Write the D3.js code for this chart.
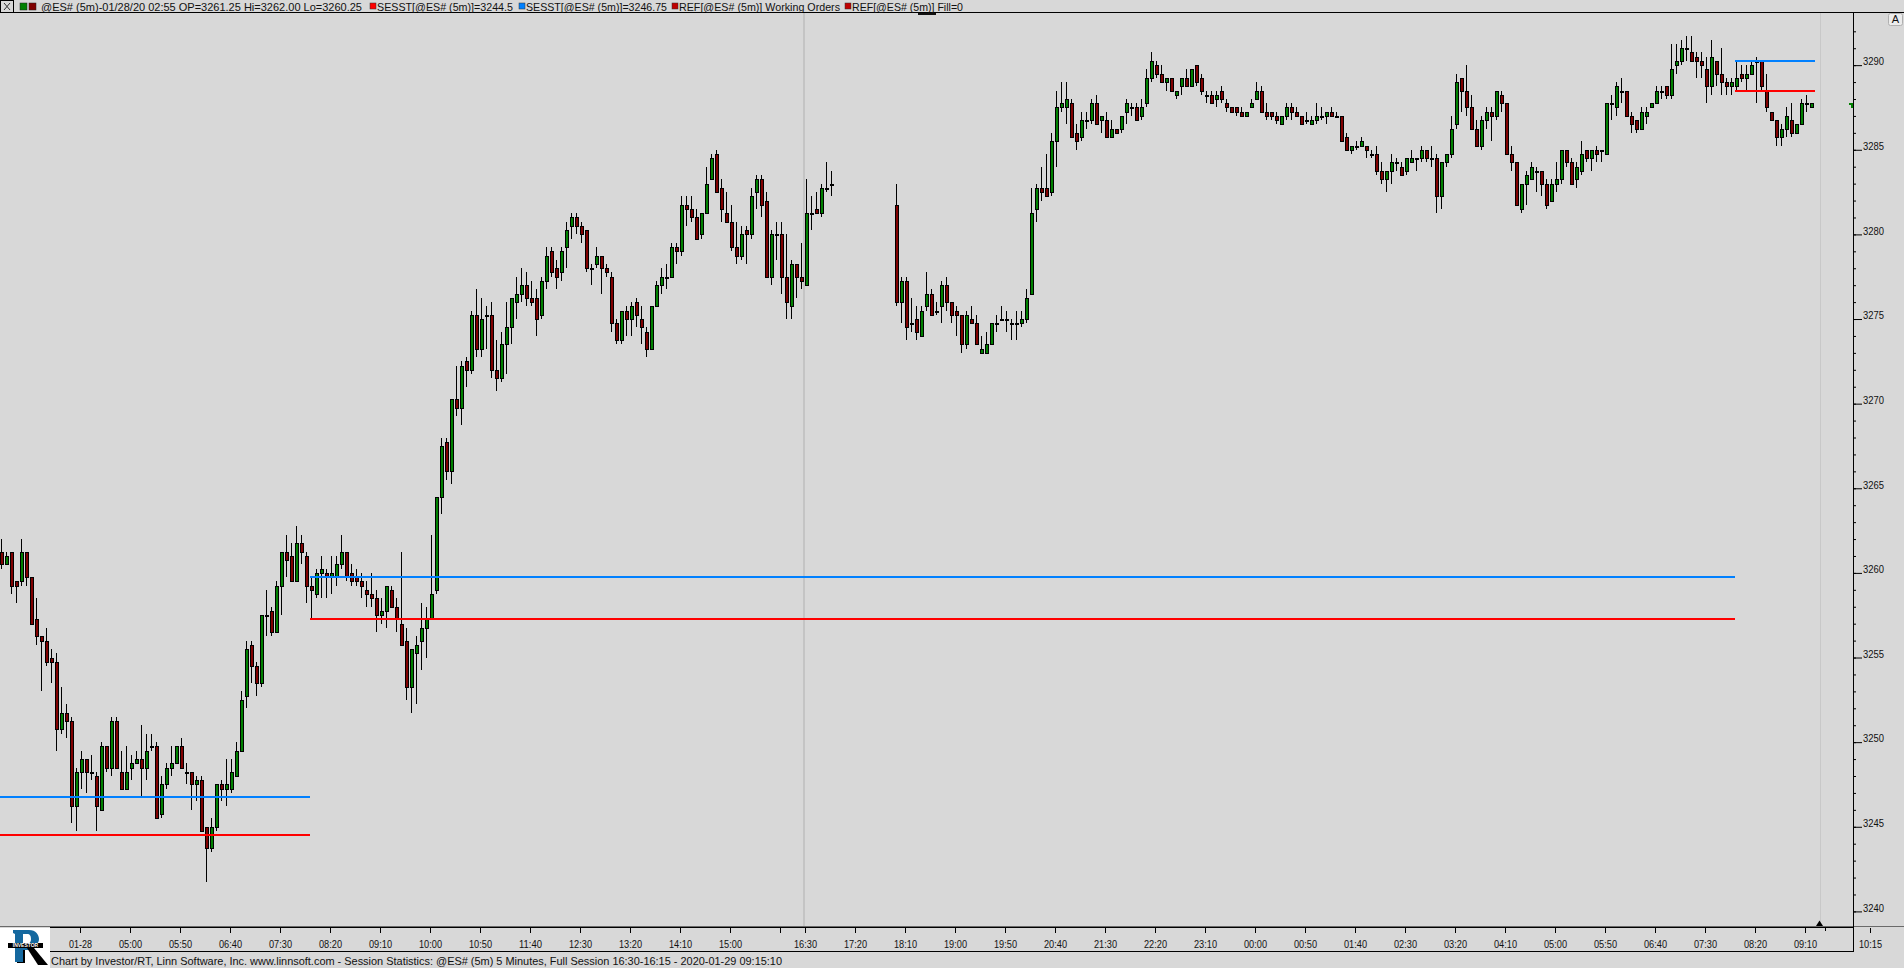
<!DOCTYPE html>
<html><head><meta charset="utf-8">
<script src="https://cdn.jsdelivr.net/npm/d3@7"></script>
<style>
html,body{margin:0;padding:0;background:#d8d8d8;overflow:hidden}
svg{display:block}
text{font-family:"Liberation Sans",Arial,sans-serif;fill:#111}
</style></head><body>
<svg id="c" width="1904" height="968"></svg>
<script>
const N=null;
const opens=[
3261.25,3260.5,3261.25,3259.5,3259.5,3261.25,3259.75,3257.25,3256.25,3256,
3255,3254.75,3250.75,3251.75,3251.25,3246.25,3248.25,3249,3248.25,3248,
3246,3249.75,3248.5,3251.25,3248.25,3247.25,3248.5,3248.75,3249,3248.5,
3249.75,3249.75,3245.75,3247.5,3248.5,3248.75,3249.75,3248.25,3248.25,3247.5,
3247.75,3245,3243.75,3245,3247.5,3247.25,3247.25,3248,3249.5,3252.75,
3255.75,3254.5,3253.5,3257.5,3257.75,3256.5,3259.25,3261.25,3261,3259.5,
3261.75,3261,3259.25,3258.75,3260,3260,3259.75,3259.75,3260.5,3261.25,
3260,3259.75,3259.5,3259,3258.75,3258.5,3257.5,3257.75,3259,3258,
3257,3256,3253.25,3255.25,3256,3256.75,3257.25,3259,3264.5,3267.75,
3266,3270.25,3269.75,3272.5,3272,3275.25,3273.25,3275.25,3275.25,3272,
3271.5,3273.5,3274.5,3276,3276.5,3277,3276.25,3276.25,3275.25,3277.25,
3279,3278,3277.75,3279.25,3280.5,3281,3280.5,3280.25,3278,3278.25,
3278.75,3278,3277.5,3274.75,3273.75,3275.5,3275,3276,3275,3274.25,
3273.25,3275.75,3277,3277.5,3277.5,3279.25,3279,3281.75,3281.5,3281,
3280,3281.25,3283.25,3284.75,3282.75,3281.25,3280.75,3279.25,3278.75,3280.25,
3280,3282.5,3283.25,3282,3277.5,3280,3280,3277.5,3275.75,3278.25,
3277.5,3277,3281.25,3281.5,3281.25,3282.75,3283,N,N,N,
N,N,N,N,N,N,N,N,N,3281.75,
3276,3277.25,3274.75,3275,3274,3275.75,3276.5,3275.5,3275.75,3277,
3276,3275.5,3275.25,3273.5,3275,3274.75,3273,3273,3273.5,3274.75,
3275,3275,3274.75,3274.75,3274.75,3275,3276.5,3281.5,3282.75,3282.75,
3282.5,3285.5,3287.5,3287.5,3287.75,3286,3285.75,3286.75,3286.75,3287.75,
3286.75,3286.75,3285.75,3286.25,3286.25,3287.25,3287.5,3287.5,3287,3287.75,
3289.25,3290,3289.5,3289,3289.25,3288.25,3288.75,3289.25,3288.75,3290,
3289.25,3288.25,3288.25,3288,3288.5,3287.75,3287.5,3287.5,3287.25,3287,
3287.5,3288,3288.5,3287.25,3287.25,3287,3286.5,3287,3287.5,3287.25,
3287,3286.75,3286.5,3286.75,3287,3287,3287.25,3287,3287,3285.75,
3285,3285.25,3285.25,3285.25,3284.75,3284.75,3283.75,3283.25,3283.75,3284.25,
3284,3283.75,3284.25,3284.5,3284.5,3285,3284.5,3284.5,3282.25,3284.25,
3284.75,3286.5,3289.25,3288.5,3287.5,3286.25,3285.25,3286.75,3287.25,3287,
3288.25,3287.75,3284.75,3284.25,3281.5,3283,3283.25,3283.75,3283.75,3283,
3282,3283,3283.25,3285,3284.25,3283.25,3283.75,3285,3284.5,3285,
3285,3284.75,3287.75,3287.5,3288.5,3288.5,3287,3286.75,3286.25,3287,
3287.5,3287.75,3288.5,3288.75,3288.25,3290,3290.25,3291,3290.75,3290.5,
3290.25,3289.75,3288.75,3290.25,3289.5,3289,3288.75,3288.75,3289.5,3289.25,
3289.5,3290.25,3290.25,3288.5,3287.25,3286.75,3285.75,3286.25,3286.75,3286,3286.5,3287.75,3287.5];
const highs=[
3262,3261.25,3261.25,3259.5,3262,3261.25,3259.75,3258.5,3256.25,3256.75,
3255.5,3255.25,3253.25,3252.25,3251.5,3248.5,3249.5,3249,3249.25,3248.25,
3250,3249.75,3251.5,3251.5,3249.5,3249.75,3249.25,3249.5,3251,3250.5,
3250.5,3250,3248,3248.75,3249.75,3249.75,3250.25,3248.75,3248.25,3248,
3248,3245,3245.5,3247.5,3247.75,3249,3249,3250,3253,3256,
3256,3254.75,3257.5,3259,3258,3259.5,3261.25,3262.25,3261.75,3262.75,
3262.25,3261.25,3259.75,3260.25,3261,3260.25,3261,3261,3262.25,3261.25,
3260.5,3260.25,3260,3259.5,3260,3259,3258.5,3259.25,3259.25,3258.5,
3261.25,3256.75,3255.5,3256.25,3258.25,3258,3262.25,3264.5,3268,3268,
3270.25,3272.25,3272.5,3272.75,3275.5,3276.75,3276.25,3275.75,3276,3273.75,
3274.25,3276,3276.25,3277.5,3278,3277.75,3277.25,3276.75,3277.5,3279.25,
3279.25,3278.5,3279.25,3280.75,3281.25,3281.25,3280.75,3280.25,3278.25,3279.25,
3278.75,3278.25,3277.75,3275,3275.5,3275.75,3276,3276.25,3275.75,3274.5,
3275.75,3277.25,3278,3278.25,3279.5,3279.5,3282.25,3282.25,3282.25,3281.5,
3281.25,3284,3284.75,3285,3283.25,3282.5,3281.75,3280.75,3280.5,3280.5,
3282.75,3283.5,3283.5,3282.5,3280.25,3280.75,3280.75,3280,3278.5,3278.25,
3279.5,3283.25,3282.25,3282.5,3283,3284.25,3283.75,N,N,N,
N,N,N,N,N,N,N,N,N,3283,
3277.5,3277.5,3276.25,3275.75,3275.75,3277.75,3276.75,3276,3277.25,3277.5,
3276,3275.75,3275.25,3275.5,3275.75,3275.25,3274,3274.25,3274.75,3275.25,
3275.75,3275.5,3275,3275.5,3275.5,3276.75,3282.75,3283,3284,3284.75,
3286,3288.5,3289,3289,3288,3286.5,3287.25,3287.25,3288,3288.25,
3287,3287.25,3286.75,3286.25,3287,3288,3287.75,3287.75,3288,3289.75,
3290.75,3290.25,3290,3289.25,3289.25,3288.5,3289.25,3289.75,3289.75,3290,
3289.5,3288.5,3288.5,3288.5,3288.75,3288,3287.5,3287.5,3287.5,3287.25,
3288,3289,3288.75,3287.75,3287.25,3287.25,3287,3287.75,3287.75,3287.5,
3287,3287.25,3287,3287.75,3287.5,3287.25,3287.5,3287.25,3287,3286,
3285.25,3285.5,3285.75,3285.25,3285,3285.25,3284.25,3283.75,3284.75,3284.5,
3284.25,3284.5,3285,3284.5,3285.25,3285,3285.25,3284.75,3284.25,3284.75,
3287,3289.5,3289.25,3290,3288.25,3286.75,3287,3287.5,3287.5,3288.5,
3288.5,3287.75,3285.25,3284.25,3283,3283.75,3284.25,3284,3283.75,3283.25,
3283.25,3284.25,3285,3285,3284.5,3284.25,3285.5,3285,3285,3285.25,
3285,3287.75,3288.25,3289,3289.25,3288.5,3287.25,3286.75,3287.5,3287.5,
3287.75,3288.75,3288.75,3288.75,3291.25,3291.25,3291.5,3291.75,3291.75,3290.75,
3290.75,3290.5,3291.5,3290.25,3291,3289.25,3289.25,3290.25,3290,3290,
3290.25,3290.5,3290.25,3289.5,3287.25,3286.75,3286.5,3287.5,3287.75,3286.5,3288,3288.25,3287.75];
const lows=[
3260.25,3260.5,3258.75,3258.25,3259.25,3259.25,3257,3255.75,3253,3254.5,
3253.5,3249.5,3250.5,3250.25,3245.25,3244.75,3247.25,3247,3247.75,3244.75,
3246,3248.25,3248,3248.5,3247.25,3247.25,3247.75,3248.75,3246.75,3247.75,
3249.5,3245.5,3245.5,3247.25,3248,3248.75,3248.5,3247.5,3246,3246.5,
3244.75,3241.75,3243.5,3244.75,3246.5,3246.25,3247,3248,3249.5,3252,
3253.5,3252.75,3253.25,3256.25,3256.25,3256.5,3257.5,3259.75,3259.5,3259.5,
3260.5,3258.25,3257.25,3258.5,3258.5,3258.5,3258.75,3259.25,3260.25,3259.5,
3259.25,3259.25,3258.5,3258,3258,3256.5,3257,3256.75,3258,3256.5,
3255.75,3252.5,3251.75,3252.25,3254.25,3255,3257.25,3258.75,3263.5,3265.5,
3265.25,3269.25,3268.75,3271,3271.75,3272.75,3272.75,3273.25,3271.5,3270.75,
3271.25,3271.75,3273.5,3275,3276,3275.75,3275.75,3274,3275,3276.75,
3277.5,3276.75,3277.25,3278,3279.75,3280,3279.5,3277.75,3277,3278,
3276.5,3277.5,3274.25,3273.5,3273.5,3274,3274,3274.5,3273.5,3272.75,
3273.25,3275.75,3276.5,3276.75,3277.5,3278.25,3278.75,3280.5,3280.75,3279.75,
3279.75,3281.25,3283.25,3282.5,3280.75,3280.75,3279,3278.25,3278.5,3278.25,
3279.75,3281.5,3281,3277.5,3277,3278.5,3276.5,3275,3275,3276.25,
3276.75,3277,3280.25,3281.25,3281,3282.5,3282.25,N,N,N,
N,N,N,N,N,N,N,N,N,3275.75,
3274.75,3273.75,3274.25,3273.75,3274,3275.5,3275.25,3275.25,3274.75,3275.5,
3274.75,3274,3273,3273.25,3274.75,3273.5,3273,3273,3273.5,3274.25,
3275,3274.25,3273.75,3273.75,3274.5,3274.75,3276.5,3280.75,3282,3282.25,
3282.25,3284,3287.25,3286.5,3285.75,3285,3285.5,3286.25,3286.5,3286.5,
3286,3285.75,3285.75,3286,3286,3286.5,3287,3286.75,3286.75,3287.5,
3289,3289.25,3289,3288.5,3288.5,3288,3288.25,3288.75,3288.75,3288.75,
3288.25,3287.75,3287.75,3287.5,3287.75,3287.25,3287.25,3287,3287,3287,
3287.5,3288,3287.25,3286.75,3286.75,3286.5,3286.5,3286.75,3286.75,3287,
3286.5,3286.5,3286.5,3286.5,3286.75,3286.5,3287,3287,3285.5,3285,
3284.75,3285,3285.25,3284.5,3284.5,3283.5,3283,3282.5,3283,3283.75,
3283.5,3283.5,3284.25,3283.75,3284.25,3284.25,3284,3281.25,3281.5,3284,
3284.5,3286.25,3287.25,3287,3286.25,3285.25,3285,3286.25,3285.5,3286.75,
3287.25,3284.75,3283.75,3281.75,3281.25,3281.75,3283.25,3282.5,3282.25,3281.5,
3282,3282.5,3283,3284,3283,3282.75,3283.5,3284.25,3283.75,3284.25,
3284.25,3284.75,3286.75,3287,3287.75,3287,3286,3286,3286.25,3286.5,
3287.5,3287.75,3288,3288,3288,3289.5,3290,3290.25,3290.25,3289.25,
3289.25,3287.75,3288.25,3288.75,3288.25,3288.25,3288.25,3288.5,3289,3288.5,
3289.5,3287.75,3288.5,3287.25,3286.75,3285.25,3285.25,3285.75,3285.75,3286,3286.5,3287.25,3287.5];
const closes=[
3260.5,3261,3259.25,3259.25,3261.25,3259.75,3257,3256.25,3256,3254.75,
3254.75,3250.75,3251.75,3251.25,3246.25,3248.25,3249,3248.25,3248.25,3246.25,
3249.75,3248.5,3251.25,3248.5,3247.25,3248.25,3248.75,3249,3248.5,3249.5,
3249.75,3245.5,3247.5,3248.5,3248.75,3249.75,3248.5,3248.25,3247.5,3247.75,
3244.75,3243.75,3245,3247.5,3247.25,3247.5,3248.25,3249.5,3252.5,3255.5,
3254.5,3253.5,3257.5,3257.5,3256.5,3259.25,3261.25,3260.75,3259.5,3261.75,
3261.25,3259.25,3259,3260,3260.25,3259.75,3260,3260.5,3261.25,3259.75,
3259.5,3259.5,3259.25,3258.75,3258.5,3257.5,3257.75,3259.25,3258,3257.25,
3255.75,3253.25,3255.5,3255.75,3256.75,3257.25,3258.75,3264.5,3267.5,3266,
3270.25,3269.75,3272.25,3272,3275.25,3273.25,3275,3275.25,3272,3271.5,
3273.5,3274.5,3276.25,3276.5,3277,3276.25,3276,3275,3277.25,3278.75,
3277.75,3277.5,3279,3280.25,3281,3280.5,3280,3278,3278,3278.75,
3278,3277.75,3274.75,3273.75,3275.5,3275,3275.75,3275.25,3274.5,3273.25,
3275.75,3277,3277.5,3277.5,3279.25,3279,3281.75,3281.5,3281,3279.75,
3281.25,3283,3284.5,3282.5,3281.5,3280.75,3279.25,3278.75,3280,3280,
3282.25,3283.25,3281.75,3277.5,3280,3280,3277.5,3276,3278.25,3277.5,
3277.25,3281.25,3281.25,3281.25,3282.75,3282.75,3283,N,N,N,
N,N,N,N,N,N,N,N,N,3276,
3277.25,3274.5,3274.75,3274.25,3275.5,3276.5,3275.25,3275.5,3277,3276,
3275.25,3275.25,3273.5,3275.25,3274.75,3273.5,3273.25,3273.5,3274.75,3274.75,
3275,3275,3274.75,3274.75,3275,3276.25,3281.25,3282.75,3282.5,3282.25,
3285.5,3287.5,3287.75,3288,3285.75,3285.5,3286.75,3286.75,3287.75,3286.5,
3287,3285.75,3286.25,3286,3287,3287.75,3287.5,3286.75,3287.5,3289.25,
3290.25,3289.5,3289,3289.25,3288.5,3288.5,3289.25,3288.75,3289.75,3289,
3288.5,3288.25,3287.75,3288.25,3288,3287.5,3287.25,3287.25,3287,3287.25,
3287.75,3288.5,3287.25,3287,3287,3286.75,3287,3287.5,3287.25,3287,
3286.5,3286.75,3286.75,3287,3287,3287.25,3287,3287,3285.5,3285,
3285.25,3285.25,3285.5,3285,3284.75,3283.75,3283.25,3283.75,3284.25,3284.25,
3283.5,3284.5,3284.5,3284.5,3285,3284.5,3284.5,3282.25,3284.25,3284.75,
3286.25,3289,3288.5,3287.5,3286.25,3285.25,3286.75,3287.25,3287,3288.5,
3287.75,3284.75,3284.25,3281.75,3283,3283.5,3284,3283.75,3283,3281.75,
3283,3283.25,3285,3284.25,3283,3284,3284.75,3284.5,3285,3284.75,
3285,3287.75,3287.75,3288.75,3288.5,3287,3286.5,3286.25,3287.25,3287.25,
3287.75,3288.5,3288.5,3288.25,3289.75,3290.25,3291,3291,3290.25,3290.25,
3290,3288.75,3290.5,3289.5,3289,3288.75,3289,3289.25,3289.25,3289.5,
3290,3290.25,3288.75,3287.5,3286.75,3285.75,3286.25,3287,3286,3286.5,3287.75,3287.75,3287.75];

// time axis
const timeTickBars=[16,26,36,46,56,66,76,86,96,106,116,126,136,146,156,161,171,181,191,201,211,221,231,241,251,261,271,281,291,301,311,321,331,341,351,361,374];
const timeTickLabels=["01-28","05:00","05:50","06:40","07:30","08:20","09:10","10:00","10:50","11:40","12:30","13:20","14:10","15:00","","16:30","17:20","18:10","19:00","19:50","20:40","21:30","22:20","23:10","00:00","00:50","01:40","02:30","03:20","04:10","05:00","05:50","06:40","07:30","08:20","09:10","10:15"];
const priceTicks=[3240,3245,3250,3255,3260,3265,3270,3275,3280,3285,3290];

// session levels: [first bar edge, last bar edge, price]
const blueLevels=[[0,62,3246.75],[62,347,3259.75],[347,363,3290.25]];
const redLevels=[[0,62,3244.5],[62,347,3257.25],[347,363,3288.5]];
const sessionBar=160.8, cursorBar=363.9, lastBar=362;

const headerItems=[
 {sq:"#ff0000",sx:370,x:377,w:136,t:"SESST[@ES# (5m)]=3244.5"},
 {sq:"#0080ff",sx:519,x:526,w:141,t:"SESST[@ES# (5m)]=3246.75"},
 {sq:"#c00000",sx:672,x:679,w:161,t:"REF[@ES# (5m)] Working Orders"},
 {sq:"#c00000",sx:845,x:852,w:111,t:"REF[@ES# (5m)] Fill=0"}
];
const mainTitle="@ES# (5m)-01/28/20 02:55 OP=3261.25 Hi=3262.00 Lo=3260.25";
const footerText="Chart by Investor/RT, Linn Software, Inc. www.linnsoft.com - Session Statistics: @ES# (5m) 5 Minutes, Full Session 16:30-16:15 - 2020-01-29 09:15:10";

const svg=d3.select("#c");
const x=d3.scaleLinear().domain([0,1]).range([0,5]);
const y=d3.scaleLinear().domain([3240,3290]).range([911.4,65.15]);
const snap=v=>Math.round(v)+0.5;
const AX=1853, AY=927;

svg.append("rect").attr("width",1904).attr("height",968).attr("fill","#d8d8d8");

// vertical markers
svg.append("line").attr("x1",x(sessionBar)).attr("x2",x(sessionBar)).attr("y1",13).attr("y2",AY)
  .attr("stroke","#c4c4c4").attr("stroke-width",2);
svg.append("line").attr("x1",snap(x(cursorBar))).attr("x2",snap(x(cursorBar))).attr("y1",13).attr("y2",AY)
  .attr("stroke","#c8c8c8").attr("stroke-width",1);

// candles
const bars=d3.range(opens.length).filter(i=>opens[i]!==null).map(i=>({i,o:opens[i],h:highs[i],l:lows[i],c:closes[i]}));
const g=svg.append("g").attr("shape-rendering","crispEdges");
g.selectAll("line.w").data(bars).join("line").attr("class","w")
  .attr("x1",d=>x(d.i)+1.5).attr("x2",d=>x(d.i)+1.5)
  .attr("y1",d=>Math.round(y(d.h))).attr("y2",d=>Math.round(y(d.l)))
  .attr("stroke","#000").attr("stroke-width",1);
g.selectAll("rect.b").data(bars).join("rect").attr("class","b")
  .attr("x",d=>x(d.i)+0.5).attr("width",3)
  .attr("y",d=>snap(y(Math.max(d.o,d.c))))
  .attr("height",d=>Math.max(1,snap(y(Math.min(d.o,d.c)))-snap(y(Math.max(d.o,d.c)))))
  .attr("fill",d=>d.c>d.o?"#008000":d.c<d.o?"#800000":"#000")
  .attr("stroke","#000").attr("stroke-width",1);

// level lines
const lv=svg.append("g").attr("shape-rendering","crispEdges");
[[blueLevels,"#0080ff"],[redLevels,"#ff0000"]].forEach(([arr,col])=>{
  lv.selectAll(null).data(arr).join("line")
    .attr("x1",d=>x(d[0])).attr("x2",d=>x(d[1]))
    .attr("y1",d=>Math.round(y(d[2]))).attr("y2",d=>Math.round(y(d[2])))
    .attr("stroke",col).attr("stroke-width",2);
});

// bottom band rules
svg.append("line").attr("x1",0).attr("x2",1904).attr("y1",926.5).attr("y2",926.5).attr("stroke","#6a6a6a");
svg.append("line").attr("x1",50).attr("x2",AX).attr("y1",927.5).attr("y2",927.5).attr("stroke","#000");
svg.append("line").attr("x1",50).attr("x2",AX+1).attr("y1",951.5).attr("y2",951.5).attr("stroke","#000");
svg.append("line").attr("x1",AX+.5).attr("x2",AX+.5).attr("y1",12).attr("y2",952).attr("stroke","#000");

// x axis
const xAxis=d3.axisBottom(x).tickValues(timeTickBars)
  .tickFormat(d=>timeTickLabels[timeTickBars.indexOf(d)]).tickSize(5).tickPadding(7);
const gx=svg.append("g").attr("transform",`translate(0,${AY+1})`).call(xAxis);
gx.select(".domain").remove();
gx.selectAll(".tick line").attr("stroke","#000");
gx.selectAll("text").attr("font-size",11).attr("font-family","Liberation Sans").attr("fill","#1a1a1a")
  .attr("textLength",23).attr("lengthAdjust","spacingAndGlyphs");
// short tick at the end of the data area
const gx2=svg.append("g").attr("transform",`translate(0,${AY+1})`).call(d3.axisBottom(x).tickValues([365]).tickFormat("").tickSize(3));
gx2.select(".domain").remove();

// y axes
const minor=svg.append("g").attr("transform",`translate(${AX},0)`).call(d3.axisRight(y).tickValues(d3.range(3240,3293)).tickFormat("").tickSize(3));
minor.select(".domain").remove();
const gy=svg.append("g").attr("transform",`translate(${AX},0)`).call(d3.axisRight(y).tickValues(priceTicks).tickFormat(d3.format("d")).tickSize(9).tickPadding(1));
gy.select(".domain").remove();
gy.selectAll("text").attr("font-size",11).attr("font-family","Liberation Sans").attr("dy","-0.02em").attr("fill","#1a1a1a")
  .attr("textLength",21).attr("lengthAdjust","spacingAndGlyphs");

// last price mark and cursor triangle
const ly=Math.round(y(closes[lastBar]));
svg.append("path").attr("d",`M${AX-4},${ly}h4v5h-2v-3h-2z`).attr("fill","#008000");
svg.append("path").attr("d",`M${x(cursorBar)-3.5},926l3.5,-5.5l3.5,5.5z`).attr("fill","#000");

// header
svg.append("rect").attr("x",0).attr("y",0).attr("width",1904).attr("height",12).attr("fill","#d8d8d8");
svg.append("line").attr("x1",0).attr("x2",1904).attr("y1",12.5).attr("y2",12.5).attr("stroke","#000");
svg.append("rect").attr("x",.5).attr("y",.5).attr("width",13).attr("height",12).attr("fill","#d8d8d8").attr("stroke","#000");
svg.append("path").attr("d","M4,3L10,10M10,3L4,10").attr("stroke","#333").attr("fill","none");
svg.append("rect").attr("x",20).attr("y",3).attr("width",7).attr("height",7).attr("fill","#008000").attr("stroke","#222").attr("stroke-width",.5);
svg.append("rect").attr("x",29).attr("y",3).attr("width",7).attr("height",7).attr("fill","#800000").attr("stroke","#222").attr("stroke-width",.5);
function headText(t,xp,w){
  svg.append("text").attr("x",xp).attr("y",10.5).attr("font-size",11.5).attr("textLength",w).attr("lengthAdjust","spacingAndGlyphs").text(t);
}
headText(mainTitle,41,321);
headerItems.forEach(h=>{
  svg.append("rect").attr("x",h.sx).attr("y",3).attr("width",6).attr("height",6).attr("fill",h.sq).attr("stroke","#333").attr("stroke-width",.5);
  headText(h.t,h.x,h.w);
});
svg.append("rect").attr("x",918).attr("y",13).attr("width",18).attr("height",2).attr("fill","#111");

// A button
svg.append("rect").attr("x",1888.5).attr("y",13.5).attr("width",14).attr("height",12).attr("rx",2).attr("fill","#ececec").attr("stroke","#b0b0b0");
svg.append("text").attr("x",1895.5).attr("y",23).attr("text-anchor","middle").attr("font-size",11).text("A");

// footer
svg.append("text").attr("x",51).attr("y",964.5).attr("font-size",11.5).attr("textLength",731).attr("lengthAdjust","spacingAndGlyphs").text(footerText);

// logo (drawn mark) with its small word as text
svg.append("rect").attr("x",0).attr("y",928).attr("width",50).attr("height",40).attr("fill","#fff");
svg.append("path").attr("fill-rule","evenodd").attr("fill","#14689f")
  .attr("d","M13 930H29C36 930 39 935 39 939C39 943 36 946 31 947L33 950H23V962H15V934L13 933ZM23 934V944H27C30 944 31 941 31 939C31 936 30 934 27 934Z");
svg.append("path").attr("fill","#000").attr("d","M27 948H34L48 965H38Z");
svg.append("path").attr("fill","#000").attr("d","M23 950H25V963H17V962H23Z");
svg.append("rect").attr("x",8).attr("y",943).attr("width",35).attr("height",5).attr("fill","#000");
svg.append("text").attr("x",25.5).attr("y",947.3).attr("text-anchor","middle").attr("font-size",5).attr("font-weight","bold").attr("style","fill:#fff").text("INVESTOR");
</script>
</body></html>
